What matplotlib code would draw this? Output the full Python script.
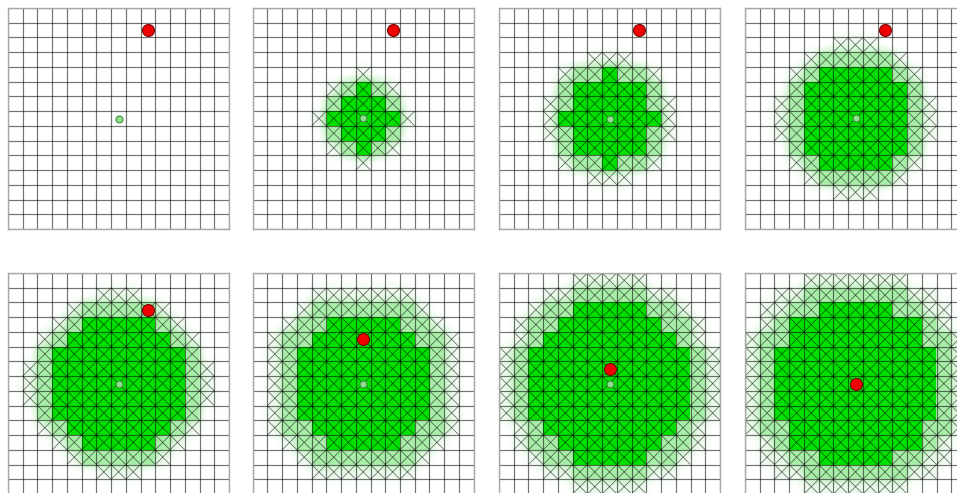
import numpy as np
import matplotlib.pyplot as plt
from matplotlib.colors import LinearSegmentedColormap, to_rgba
from matplotlib.collections import LineCollection

N = 15

# cell states per step: '.' untouched, 'x' queued, 'l' partly reached, 'g' reached
grid_1 = ['...............'] * 15

grid_2 = [
    '...............',
    '...............',
    '...............',
    '...............',
    '.......x.......',
    '.....xlglx.....',
    '.....lgggl.....',
    '....xgggggx....',
    '.....lgggl.....',
    '.....xlglx.....',
    '.......x.......',
    '...............',
    '...............',
    '...............',
    '...............',
]

grid_3 = [
    '...............',
    '...............',
    '...............',
    '......xxx......',
    '....xllgllx....',
    '....lgggggl....',
    '...xlggggglx...',
    '...xgggggggx...',
    '...xlggggglx...',
    '....lgggggl....',
    '....xllgllx....',
    '......xxx......',
    '...............',
    '...............',
    '...............',
]

grid_4 = [
    '...............',
    '...............',
    '......xxx......',
    '....xlllllx....',
    '...xlggggglx...',
    '...lgggggggl...',
    '..xlggggggglx..',
    '..xlggggggglx..',
    '..xlggggggglx..',
    '...lgggggggl...',
    '...xlggggglx...',
    '....xlllllx....',
    '......xxx......',
    '...............',
    '...............',
]

grid_5 = [
    '...............',
    '......xxx......',
    '....xlllllx....',
    '...xlggggglx...',
    '..xlggggggglx..',
    '..lgggggggggl..',
    '.xlggggggggglx.',
    '.xlggggggggglx.',
    '.xlggggggggglx.',
    '..lgggggggggl..',
    '..xlggggggglx..',
    '...xlggggglx...',
    '....xlllllx....',
    '......xxx......',
    '...............',
]

grid_6 = [
    '...............',
    '....xxxxxxx....',
    '...xlllllllx...',
    '..xllgggggllx..',
    '.xllgggggggllx.',
    '.xlggggggggglx.',
    '.xlggggggggglx.',
    '.xlggggggggglx.',
    '.xlggggggggglx.',
    '.xlggggggggglx.',
    '.xllgggggggllx.',
    '..xllgggggllx..',
    '...xlllllllx...',
    '....xxxxxxx....',
    '...............',
]

grid_7 = [
    '.....xxxxx.....',
    '...xxlllllxx...',
    '..xllgggggllx..',
    '.xllgggggggllx.',
    '.xlggggggggglx.',
    'xlggggggggggglx',
    'xlggggggggggglx',
    'xlggggggggggglx',
    'xlggggggggggglx',
    'xlggggggggggglx',
    '.xlggggggggglx.',
    '.xllgggggggllx.',
    '..xllgggggllx..',
    '...xxlllllxx...',
    '.....xxxxx.....',
]

grid_8 = [
    '....xxxxxxx....',
    '..xxlllllllxx..',
    '.xxllgggggllxx.',
    '.xlggggggggglx.',
    'xllgggggggggllx',
    'xlggggggggggglx',
    'xlggggggggggglx',
    'xlggggggggggglx',
    'xlggggggggggglx',
    'xlggggggggggglx',
    'xllgggggggggllx',
    '.xlggggggggglx.',
    '.xxllgggggllxx.',
    '..xxlllllllxx..',
    '....xxxxxxx....',
]

goal_cols = [9, 9, 9, 9, 9, 7, 7, 7]
goal_rows = [1, 1, 1, 1, 2, 4, 6, 7]
start_col, start_row = 7, 7

panels = [grid_1, grid_2, grid_3, grid_4, grid_5, grid_6, grid_7, grid_8]

level = {'.': 0.0, 'x': 0.12, 'l': 0.5, 'g': 1.0}
fill = {'l': '#a8eea8', 'g': '#00e100'}
haze = LinearSegmentedColormap.from_list(
    'haze', [(0, 'white'), (0.12, '#e8fae8'), (0.5, '#a8eea8'), (1, '#00e100')])
ink = (0, 0, 0, 0.55)

W, H = 957, 493
fig = plt.figure(figsize=(W / 100, H / 100), dpi=100)
lefts = [8, 252.7, 499, 745]
tops = [8, 273]
size = 221

for k, grid in enumerate(panels):
    left = lefts[k % 4]
    top = tops[k // 4]
    ax = fig.add_axes([left / W, 1 - (top + size) / H, size / W, size / H])

    # soft glow underneath, then solid cells on top
    vals = np.array([[level[ch] for ch in row] for row in grid])
    ax.imshow(vals, cmap=haze, vmin=0, vmax=1, interpolation='bilinear',
              extent=(0, N, N, 0))
    cells = np.zeros((N, N, 4))
    for r, row in enumerate(grid):
        for c, ch in enumerate(row):
            if ch in fill:
                cells[r, c] = to_rgba(fill[ch])
    ax.imshow(cells, interpolation='nearest', extent=(0, N, N, 0))

    ax.vlines(np.arange(N + 1), 0, N, color=ink, lw=0.85)
    ax.hlines(np.arange(N + 1), 0, N, color=ink, lw=0.85)

    crosses = []
    for r, row in enumerate(grid):
        for c, ch in enumerate(row):
            if ch != '.':
                crosses.append([(c, r), (c + 1, r + 1)])
                crosses.append([(c + 1, r), (c, r + 1)])
    ax.add_collection(LineCollection(crosses, colors=[ink], linewidths=0.6))

    ax.plot(start_col + 0.5, start_row + 0.5, 'o', ms=5, mfc='#8ee08e',
            mec='#3d8f3d', mew=0.8)
    ax.plot(goal_cols[k] + 0.5, goal_rows[k] + 0.5, 'o', ms=8.6, mfc='#f00000',
            mec='#7a0000', mew=0.8)

    ax.set_xlim(0, N)
    ax.set_ylim(N, 0)
    ax.set_xticks([])
    ax.set_yticks([])
    for s in ax.spines.values():
        s.set_edgecolor('#a8a8a8')
        s.set_linewidth(1)

fig.savefig('out.png', dpi=100)
